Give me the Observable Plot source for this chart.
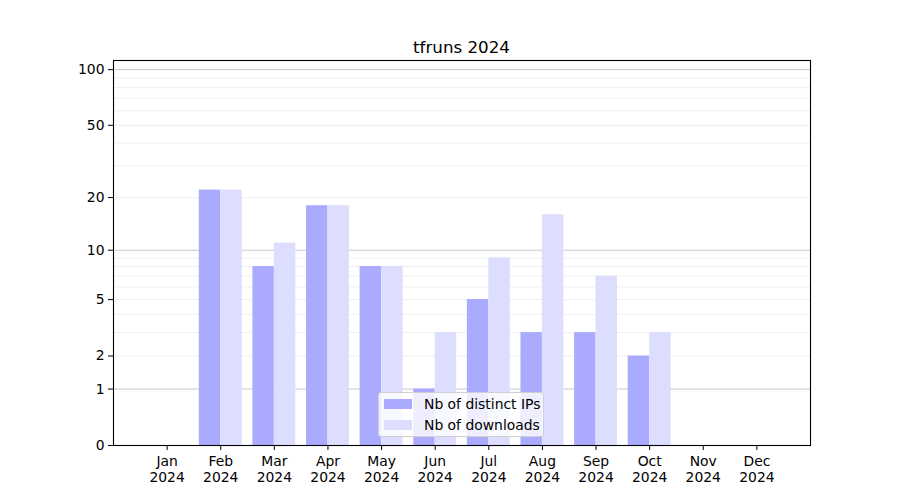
<!DOCTYPE html>
<html>
<head>
<meta charset="utf-8">
<script src="https://cdn.jsdelivr.net/npm/d3@7"></script>
<script src="https://cdn.jsdelivr.net/npm/@observablehq/plot@0.6"></script>
<style>
  body { margin: 0; background: #fff; font-family: "DejaVu Sans", sans-serif; }
  #fig { position: relative; width: 900px; height: 500px; }
  #title { position: absolute; left: 113px; width: 697px; top: 37px; text-align: center; font-size: 16.7px; color: #000; }
  #legend { position: absolute; left: 378px; top: 392px; width: 166px; height: 45px; box-sizing: border-box;
            background: rgba(255,255,255,0.8); border: 1px solid #d0d0d0; border-radius: 3px; font-size: 13.9px; }
  .row { position: absolute; left: 5px; height: 16px; display: flex; align-items: center; white-space: nowrap; }
  .sw { width: 28px; height: 10px; margin-right: 12px; }
</style>
</head>
<body>
<div id="fig">
  <div id="title">tfruns 2024</div>
  <div id="legend">
    <div class="row" style="top:3px"><div class="sw" style="background:#aaaaff"></div>Nb of distinct IPs</div>
    <div class="row" style="top:24px"><div class="sw" style="background:#ddddff"></div>Nb of downloads</div>
  </div>
</div>
<script>
const months = ["Jan","Feb","Mar","Apr","May","Jun","Jul","Aug","Sep","Oct","Nov","Dec"];
const year = "2024";
const distinctIPs = [0, 22, 8, 18, 8, 1, 5, 3, 3, 2, 0, 0];
const downloads   = [0, 22, 11, 18, 8, 3, 9, 16, 7, 3, 0, 0];
const yTicks = [0, 1, 2, 5, 10, 20, 50, 100];
const majorGrid = [1, 10, 100];
const minorGrid = [2, 3, 4, 5, 6, 7, 8, 9, 20, 30, 40, 50, 60, 70, 80, 90];

const table = months.map((m, i) => ({month: m, i, ips: distinctIPs[i], dl: downloads[i]}));
const half = 0.4;
const tickIdx = table.map(d => d.i);

const chart = Plot.plot({
  width: 900,
  height: 500,
  marginTop: 60,
  marginLeft: 113,
  marginRight: 90,
  marginBottom: 55,
  style: {fontFamily: "DejaVu Sans, sans-serif", fontSize: "13.9px", color: "#000", background: "transparent"},
  x: {type: "linear", domain: [-1, 12]},
  y: {type: "symlog", constant: 1, domain: [0, 112]},
  marks: [
    Plot.ruleY(minorGrid, {stroke: "#ebebeb", strokeWidth: 0.8}),
    Plot.ruleY(majorGrid, {stroke: "#c8c8c8", strokeWidth: 1}),
    Plot.rectY(table, {x1: d => d.i - half, x2: d => d.i, y1: 0, y2: "ips", fill: "#aaaaff"}),
    Plot.rectY(table, {x1: d => d.i, x2: d => d.i + half, y1: 0, y2: "dl", fill: "#ddddff"}),
    Plot.frame({stroke: "#000", strokeWidth: 1.1}),
    Plot.axisY({ticks: yTicks, tickFormat: d => String(d), tickSize: 5, tickPadding: 4, fontSize: "13.9px", label: null}),
    Plot.axisX({ticks: tickIdx, tickFormat: i => months[i], tickSize: 5, tickPadding: 6, fontSize: "13.9px", label: null}),
    Plot.axisX({ticks: tickIdx, tickFormat: () => year, tickSize: 0, tickPadding: 27, fontSize: "13.9px", label: null})
  ]
});
document.getElementById("fig").prepend(chart);
</script>
</body>
</html>
